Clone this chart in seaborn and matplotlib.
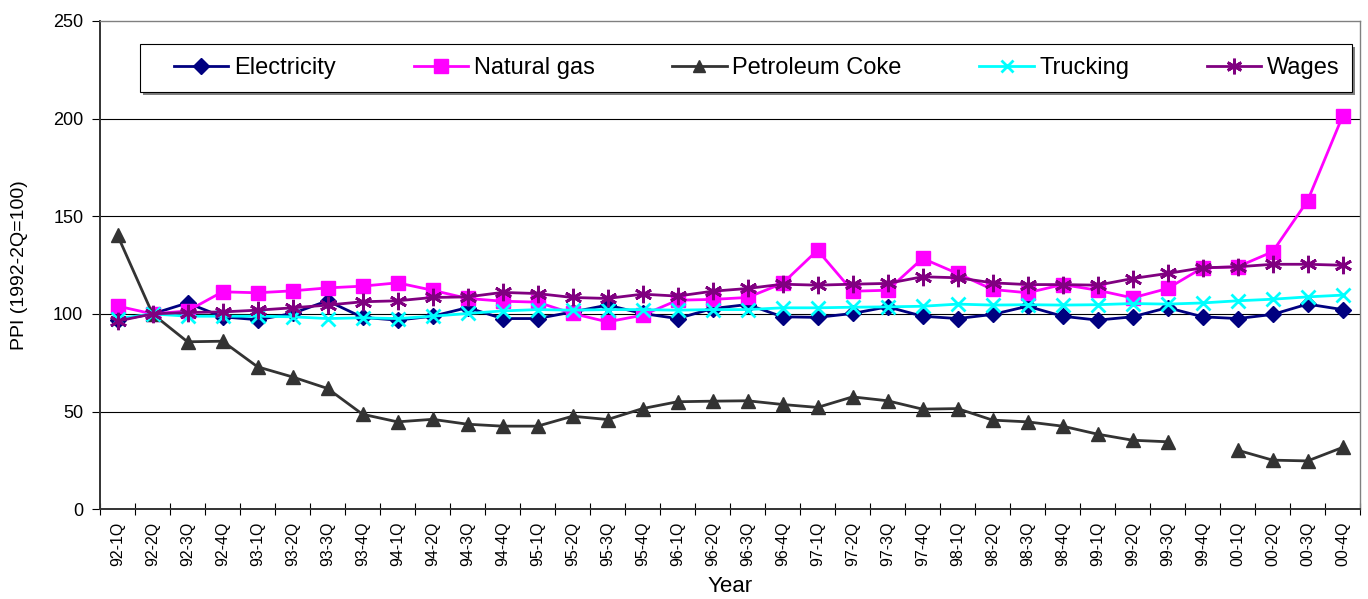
import matplotlib
matplotlib.use('Agg')
import matplotlib.pyplot as plt
from matplotlib.patches import Rectangle
import numpy as np
import pandas as pd
import seaborn as sns

quarters = [f'{y:02d}-{q}Q' for y in [92, 93, 94, 95, 96, 97, 98, 99, 0] for q in range(1, 5)]

electricity = [96.8, 100, 105.6, 98.5, 97.0, 100.2, 106.7, 98.2, 96.8, 98.8, 103.2, 97.6,
               97.6, 101.0, 104.5, 100.2, 97.6, 102.7, 104.8, 98.5, 98.2, 100.2, 103.6, 98.8,
               97.6, 99.7, 103.9, 98.8, 96.8, 98.5, 103.2, 98.5, 97.6, 99.7, 105.0, 102.2]
natural_gas = [104.0, 100, 101.5, 111.3, 110.8, 111.8, 113.3, 114.2, 115.9, 112.1, 107.9, 106.5,
               106.0, 100.2, 95.9, 99.3, 107.0, 107.4, 108.4, 115.6, 132.6, 111.6, 112.1, 128.4,
               120.7, 112.5, 110.8, 115.0, 112.1, 108.2, 113.0, 123.6, 124.1, 131.8, 157.9, 201.2]
petroleum_coke = [140.3, 100, 85.7, 86.0, 72.9, 67.7, 61.8, 48.6, 44.7, 46.0, 43.5, 42.5,
                  42.5, 47.6, 45.9, 51.5, 55.0, 55.3, 55.5, 53.6, 52.1, 57.5, 55.5, 51.2,
                  51.5, 45.6, 44.7, 42.5, 38.4, 35.3, 34.5, np.nan, 30.2, 25.1, 24.7, 31.6]
trucking = [97.5, 100, 98.8, 98.8, 98.8, 98.5, 97.6, 98.0, 97.6, 98.8, 100.2, 101.5,
            102.2, 101.9, 102.2, 102.2, 101.9, 102.2, 102.2, 103.1, 103.1, 103.4, 103.6, 103.9,
            105.0, 104.5, 104.7, 104.5, 104.7, 105.3, 105.0, 105.6, 106.7, 107.5, 108.7, 109.6]
wages = [96.3, 100, 100.7, 101.0, 101.9, 103.1, 104.5, 106.2, 106.7, 108.4, 108.7, 111.0,
         110.4, 108.4, 107.9, 110.1, 109.1, 111.6, 113.0, 115.2, 114.7, 115.2, 115.6, 119.0,
         118.5, 115.9, 115.0, 115.0, 114.7, 118.1, 120.7, 123.6, 124.1, 125.4, 125.4, 124.9]

series = {
    'Electricity': electricity,
    'Natural gas': natural_gas,
    'Petroleum Coke': petroleum_coke,
    'Trucking': trucking,
    'Wages': wages,
}
colors = {'Electricity': '#000080', 'Natural gas': '#FF00FF', 'Petroleum Coke': '#333333',
          'Trucking': '#00FFFF', 'Wages': '#800080'}
markers = {'Electricity': 'D', 'Natural gas': 's', 'Petroleum Coke': '^',
           'Trucking': 'x', 'Wages': (6, 2, 0)}
msizes = {'Electricity': 8.5, 'Natural gas': 10.5, 'Petroleum Coke': 10,
          'Trucking': 10, 'Wages': 12.5}

plt.rcParams['font.family'] = ['Liberation Sans', 'DejaVu Sans']

fig = plt.figure(figsize=(13.68, 5.99), dpi=100)
ax = fig.add_axes([0.0731, 0.150, 0.9211, 0.815])

pos = np.arange(len(quarters))
handles = []
for name, vals in series.items():
    df = pd.DataFrame({'pos': pos, 'value': vals})
    # split at missing values so the line shows a gap
    df['seg'] = df['value'].isna().cumsum()
    df = df.dropna()
    mew = 2 if name in ('Trucking', 'Wages') else 1
    sns.lineplot(data=df, x='pos', y='value', units='seg', estimator=None,
                 color=colors[name], marker=markers[name], markersize=msizes[name],
                 markeredgecolor=colors[name], markeredgewidth=mew,
                 linewidth=2, ax=ax, legend=False, zorder=3)
    handles.append(plt.Line2D([], [], color=colors[name], marker=markers[name],
                              markersize=msizes[name] * 0.9, markeredgewidth=mew,
                              linewidth=2, label=name))

ax.set_xlim(-0.5, len(quarters) - 0.5)
ax.set_ylim(0, 250)
ax.set_yticks(range(0, 251, 50))
for v in [50, 100, 150, 200]:
    ax.axhline(v, color='black', linewidth=0.8, zorder=1)

ax.set_xticks(pos)
ax.set_xticklabels(quarters, rotation=90, fontsize=11.5)
ax.set_xticks(np.arange(-0.5, len(quarters)), minor=True)
ax.tick_params(axis='x', which='major', length=0, pad=9)
ax.tick_params(axis='x', which='minor', length=8, direction='inout', width=0.8)
ax.tick_params(axis='y', labelsize=13, length=6, width=0.8, pad=6)

for s in ['left', 'bottom']:
    ax.spines[s].set_color('#333333')
    ax.spines[s].set_linewidth(1.4)
for s in ['top', 'right']:
    ax.spines[s].set_color('#808080')
    ax.spines[s].set_linewidth(1.0)

ax.set_xlabel('Year', fontsize=16)
ax.xaxis.set_label_coords(0.5, -0.136)
ax.set_ylabel('PPI (1992-2Q=100)', fontsize=14)
ax.yaxis.set_label_coords(-0.057, 0.5)

# legend box with a shadow, drawn in figure pixels
W, H = fig.bbox.width, fig.bbox.height
x0, x1, ytop, ybot = 140, 1352, 44, 92
fig.add_artist(Rectangle(((x0 + 3) / W, 1 - (ybot + 3) / H), (x1 - x0) / W, (ybot - ytop) / H,
                         transform=fig.transFigure, facecolor='#808080', edgecolor='none', zorder=4))
fig.add_artist(Rectangle((x0 / W, 1 - ybot / H), (x1 - x0) / W, (ybot - ytop) / H,
                         transform=fig.transFigure, facecolor='white', edgecolor='black',
                         linewidth=0.8, zorder=5))
leg = fig.legend(handles=handles, ncol=5, loc='center left', mode='expand',
                 bbox_to_anchor=(174 / W, 1 - 90 / H, 1166 / W, 44 / H),
                 bbox_transform=fig.transFigure, fontsize=17, frameon=False,
                 borderpad=0, borderaxespad=0, handlelength=2.3, handletextpad=0.25,
                 columnspacing=2.6)
leg.set_zorder(6)

fig.savefig('out.png', dpi=100)
